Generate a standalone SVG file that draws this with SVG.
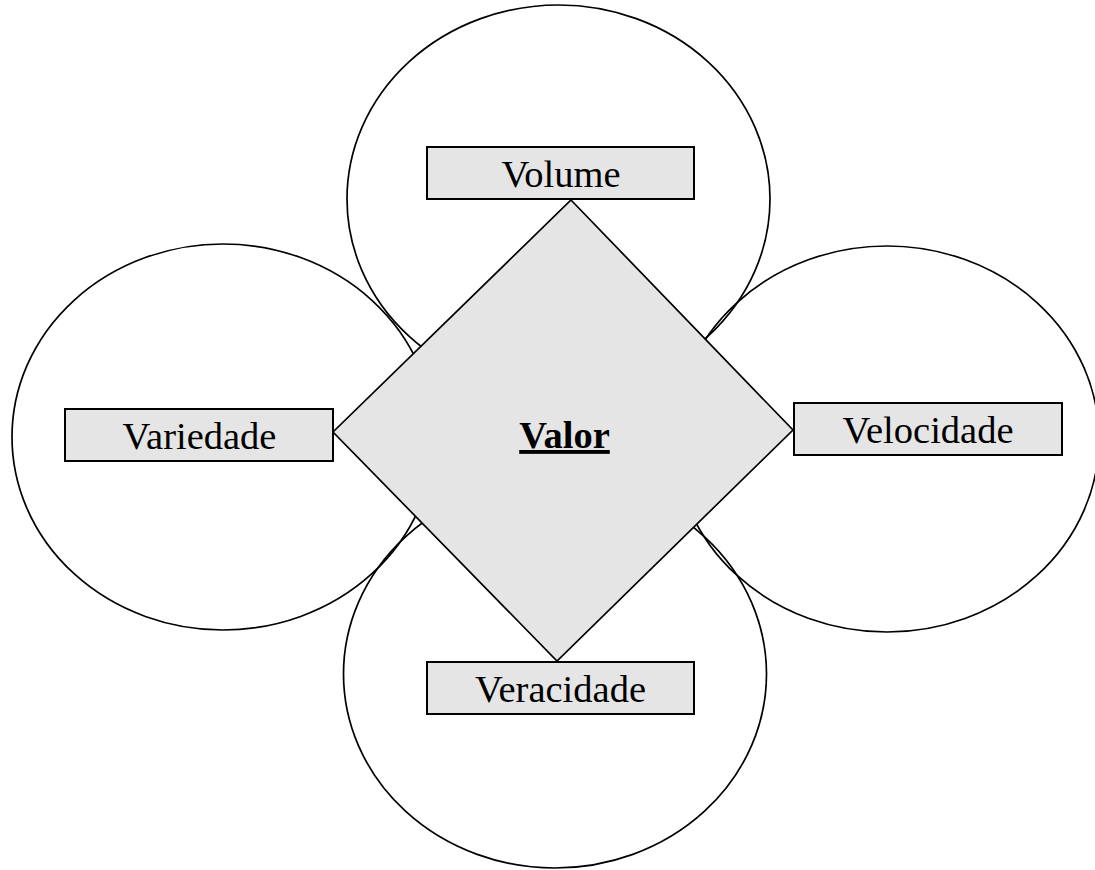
<svg xmlns="http://www.w3.org/2000/svg" width="1095" height="870" viewBox="0 0 1095 870">
  <style>
    .ring { fill: none; stroke: #000; stroke-width: 1.7; }
    .core { fill: #e5e5e5; stroke: #000; stroke-width: 1.7; }
    .box { fill: #e5e5e5; stroke: #000; stroke-width: 2; }
    .lbl { font-family: "Liberation Serif", "Times New Roman", serif; font-size: 38.5px; fill: #000; text-anchor: middle; }
    .main { font-weight: bold; text-decoration: underline; }
  </style>
  <rect width="1095" height="870" fill="#fff"/>

  <!-- surrounding regions -->
  <g id="regions">
    <ellipse id="region-volume" class="ring" cx="558.5" cy="199" rx="211.5" ry="194"/>
    <ellipse id="region-variedade" class="ring" cx="223" cy="437" rx="211" ry="193"/>
    <ellipse id="region-velocidade" class="ring" cx="887" cy="439" rx="212" ry="193"/>
    <ellipse id="region-veracidade" class="ring" cx="555" cy="674" rx="211.5" ry="194"/>
  </g>

  <!-- central value -->
  <g id="valor">
    <polygon class="core" points="571,200 793,430 557,661 333,432"/>
    <text class="lbl main" x="564.5" y="448">Valor</text>
  </g>

  <!-- attributes -->
  <g id="volume">
    <rect class="box" x="427" y="147" width="267" height="52"/>
    <text class="lbl" x="561" y="186.5">Volume</text>
  </g>
  <g id="variedade">
    <rect class="box" x="65" y="409" width="268" height="52"/>
    <text class="lbl" x="199.5" y="449">Variedade</text>
  </g>
  <g id="velocidade">
    <rect class="box" x="794" y="403" width="268" height="52"/>
    <text class="lbl" x="928" y="442.5">Velocidade</text>
  </g>
  <g id="veracidade">
    <rect class="box" x="427" y="662" width="267" height="52"/>
    <text class="lbl" x="560.5" y="701.5">Veracidade</text>
  </g>

  <g id="connectors"/>
</svg>
